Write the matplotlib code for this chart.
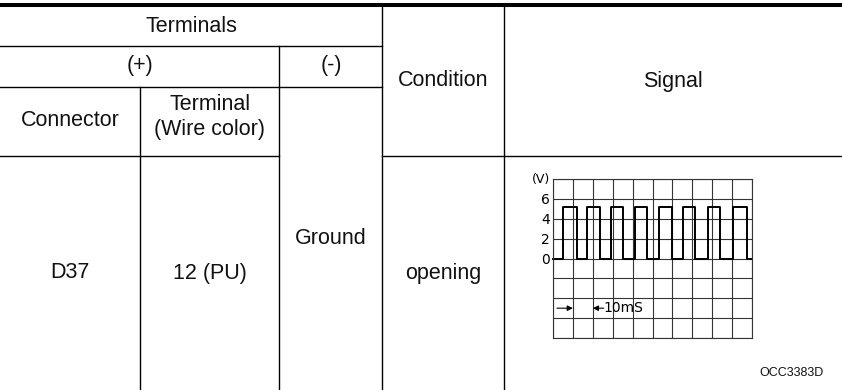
import matplotlib.pyplot as plt
import numpy as np

plt.rcParams['font.family'] = ['Liberation Sans', 'DejaVu Sans']

# table text
header_top = 'Terminals'
header_pos = '(+)'
header_neg = '(-)'
header_cond = 'Condition'
header_sig = 'Signal'
col_conn = 'Connector'
col_term = ['Terminal', '(Wire color)']
row_conn = 'D37'
row_term = '12 (PU)'
row_gnd = 'Ground'
row_cond = 'opening'
fig_code = 'OCC3383D'

# scope trace (ms, V)
rise_ms = [5.0, 17.1, 29.1, 41.2, 53.3, 65.3, 77.9, 90.5]
fall_ms = [12.1, 23.6, 35.2, 47.2, 59.8, 71.4, 83.9, 97.5]
high_v = 5.2
low_v = 0.0
volt_ticks = [0, 2, 4, 6]

W, H = 842, 390
fig = plt.figure(figsize=(W / 100, H / 100), dpi=100)
ax = fig.add_axes([0, 0, 1, 1])
ax.set_xlim(0, W)
ax.set_ylim(H, 0)
ax.axis('off')

lw = 1.0
ax.plot([0, W], [4.5, 4.5], color='black', lw=2.9, solid_capstyle='butt')
ax.plot([0, 382], [46, 46], color='black', lw=lw)
ax.plot([0, 382], [87, 87], color='black', lw=lw)
ax.plot([0, 279], [156, 156], color='black', lw=lw)
ax.plot([382, W], [156, 156], color='black', lw=lw)
ax.plot([140, 140], [87, H], color='black', lw=lw)
ax.plot([279, 279], [46, H], color='black', lw=lw)
ax.plot([382, 382], [6, H], color='black', lw=lw)
ax.plot([504, 504], [6, H], color='black', lw=lw)

fs = 15.5
kw = dict(ha='center', va='center', fontsize=fs, color='#111111')
ax.text(191, 26, header_top, **kw)
ax.text(140, 66, header_pos, **kw)
ax.text(331, 66, header_neg, **kw)
ax.text(443, 81, header_cond, **kw)
ax.text(673, 81, header_sig, **kw)
ax.text(70, 121, col_conn, **kw)
ax.text(210, 104, col_term[0], **kw)
ax.text(210, 129, col_term[1], **kw)
ax.text(70, 273, row_conn, **kw)
ax.text(210, 273, row_term, **kw)
ax.text(331, 238, row_gnd, **kw)
ax.text(443, 273, row_cond, **kw)
ax.text(792, 373, fig_code, ha='center', va='center', fontsize=9, color='#111111')

# oscilloscope inset
sx0, sx1, sy0, sy1 = 553, 752, 179, 338
sc = fig.add_axes([sx0 / W, (H - sy1) / H, (sx1 - sx0) / W, (sy1 - sy0) / H])
sc.set_xlim(0, 100)
sc.set_ylim(-8, 8)
sc.set_xticks(np.arange(0, 101, 10))
sc.set_yticks(np.arange(-8, 9, 2))
sc.grid(True, color='#333333', lw=0.8)
sc.tick_params(length=0, labelbottom=False)
sc.set_yticklabels([str(v) if v in volt_ticks else '' for v in np.arange(-8, 9, 2)],
                   fontsize=10, family=['Liberation Sans Narrow', 'DejaVu Sans'])
sc.tick_params(axis='y', pad=2)
for s in sc.spines.values():
    s.set_color('#333333')
    s.set_linewidth(0.8)

xs = [0]
ys = [low_v]
for r, f in zip(rise_ms, fall_ms):
    xs += [r, r, f, f]
    ys += [low_v, high_v, high_v, low_v]
xs.append(100)
ys.append(low_v)
sc.plot(xs, ys, color='black', lw=1.4, clip_on=False)

sc.text(-1.5, 8.0, '(V)', ha='right', va='center', fontsize=9,
        family=['Liberation Sans Narrow', 'DejaVu Sans'])
arrow = dict(arrowstyle='-|>', color='black', lw=0.8, mutation_scale=8,
             shrinkA=0, shrinkB=0)
sc.annotate('', xy=(10, -5), xytext=(2, -5), arrowprops=arrow)
sc.annotate('', xy=(20, -5), xytext=(25.5, -5), arrowprops=arrow)
sc.text(25.5, -5, '10mS', ha='left', va='center', fontsize=10,
        family=['Liberation Sans Narrow', 'DejaVu Sans'])

fig.savefig('out.png', dpi=100)
